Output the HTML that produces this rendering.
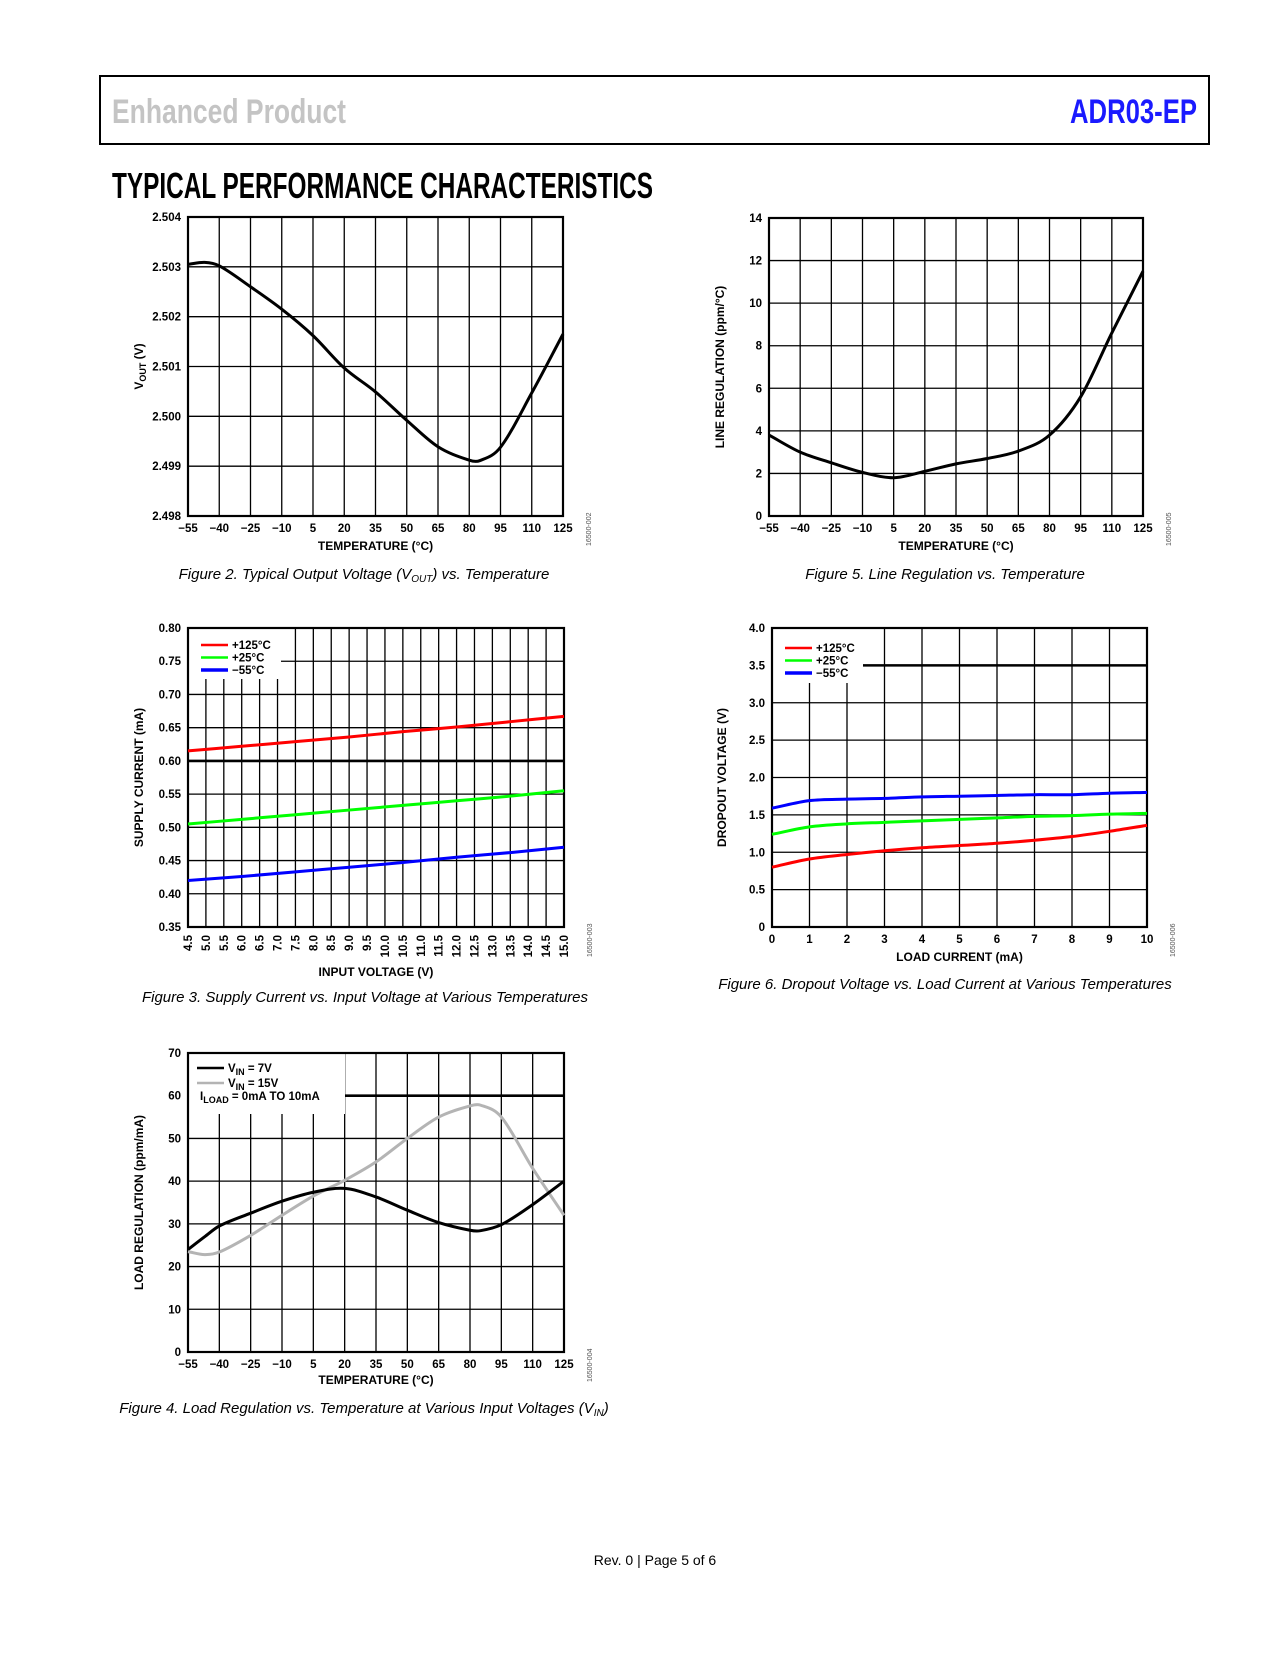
<!DOCTYPE html>
<html><head><meta charset="utf-8"><style>
html,body{margin:0;padding:0;background:#fff;}
body{width:1275px;height:1650px;position:relative;overflow:hidden;font-family:"Liberation Sans",sans-serif;}
svg text{font-family:"Liberation Sans",sans-serif;}
</style></head><body>
<svg id="page" width="1275" height="1650" viewBox="0 0 1275 1650" xmlns="http://www.w3.org/2000/svg">
<rect x="100" y="76" width="1109" height="68" fill="none" stroke="#000" stroke-width="2"/>
<text x="112" y="123" font-size="34" font-weight="bold" fill="#c4c4c4" textLength="234" lengthAdjust="spacingAndGlyphs">Enhanced Product</text>
<text x="1197" y="123" font-size="34" font-weight="bold" fill="#1a1aff" text-anchor="end" textLength="127" lengthAdjust="spacingAndGlyphs">ADR03-EP</text>
<text x="112" y="198" font-size="36" font-weight="bold" fill="#000" textLength="541" lengthAdjust="spacingAndGlyphs">TYPICAL PERFORMANCE CHARACTERISTICS</text>
<text x="364" y="579" font-size="15" font-style="italic" text-anchor="middle">Figure 2. Typical Output Voltage (V<tspan font-size="10" dy="3">OUT</tspan><tspan dy="-3">) vs. Temperature</tspan></text>
<text x="945" y="579" font-size="15" font-style="italic" text-anchor="middle">Figure 5. Line Regulation vs. Temperature</text>
<text x="365" y="1002" font-size="15" font-style="italic" text-anchor="middle">Figure 3. Supply Current vs. Input Voltage at Various Temperatures</text>
<text x="945" y="989" font-size="15" font-style="italic" text-anchor="middle">Figure 6. Dropout Voltage vs. Load Current at Various Temperatures</text>
<text x="364" y="1413" font-size="15" font-style="italic" text-anchor="middle">Figure 4. Load Regulation vs. Temperature at Various Input Voltages (V<tspan font-size="10" dy="3">IN</tspan><tspan dy="-3">)</tspan></text>
<text x="655" y="1565" font-size="14" text-anchor="middle">Rev. 0 | Page 5 of 6</text>
</svg>
<script>
// ---- Figure 2 data ----
const f2Temps = [-55,-47,-40,-25,-10,5,20,35,50,65,80,85,95,110,125];
const f2Vout = [2.50305,2.50309,2.50302,2.5026,2.50215,2.50162,2.50097,2.50049,2.49992,2.49939,2.49912,2.49911,2.49938,2.50047,2.50165];
const tempTicks = [-55,-40,-25,-10,5,20,35,50,65,80,95,110,125];
const tempTickLabels = ["\u221255","\u221240","\u221225","\u221210","5","20","35","50","65","80","95","110","125"];
const f2YTicks = [2.498,2.499,2.500,2.501,2.502,2.503,2.504];
const f2YLabels = ["2.498","2.499","2.500","2.501","2.502","2.503","2.504"];
// ---- Figure 5 data ----
const f5Temps = [-55,-40,-25,-10,5,20,35,50,65,80,95,110,125];
const f5LineReg = [3.8,3.0,2.5,2.05,1.8,2.1,2.45,2.7,3.05,3.8,5.6,8.6,11.5];
const f5YTicks = [0,2,4,6,8,10,12,14];
// ---- Figure 3 data ----
const f3Vin = [4.5,6,7.5,9,10.5,12,13.5,15];
const f3Hot = [0.615,0.622,0.629,0.636,0.644,0.651,0.659,0.667];
const f3Room = [0.505,0.512,0.519,0.526,0.533,0.540,0.547,0.555];
const f3Cold = [0.420,0.426,0.433,0.440,0.447,0.455,0.462,0.470];
const f3XTicks = [4.5,5,5.5,6,6.5,7,7.5,8,8.5,9,9.5,10,10.5,11,11.5,12,12.5,13,13.5,14,14.5,15];
const f3YTicks = [0.35,0.40,0.45,0.50,0.55,0.60,0.65,0.70,0.75,0.80];
// ---- Figure 6 data ----
const f6Load = [0,1,2,3,4,5,6,7,8,9,10];
const f6Hot = [0.80,0.91,0.97,1.02,1.06,1.09,1.12,1.16,1.21,1.28,1.36];
const f6Room = [1.24,1.34,1.38,1.40,1.42,1.44,1.46,1.48,1.49,1.51,1.52];
const f6Cold = [1.59,1.69,1.71,1.72,1.74,1.75,1.76,1.77,1.77,1.79,1.80];
const f6XTicks = [0,1,2,3,4,5,6,7,8,9,10];
const f6YTicks = [0,0.5,1,1.5,2,2.5,3,3.5,4];
const f6YLabels = ["0","0.5","1.0","1.5","2.0","2.5","3.0","3.5","4.0"];
// ---- Figure 4 data ----
const f4Temps = [-55,-47,-40,-25,-10,5,20,35,50,65,80,85,95,110,125];
const f4Vin7 = [24,27,29.5,32.5,35.3,37.4,38.3,36.3,33.2,30.3,28.5,28.4,29.8,34.5,40];
const f4Vin15 = [23.5,22.8,23.4,27.3,32,36.5,40.2,44.5,50,55,57.6,57.8,55,43,32];
const f4YTicks = [0,10,20,30,40,50,60,70];

const NS = "http://www.w3.org/2000/svg";
const svg = document.getElementById('page');
function mk(tag, attrs, parent){
  const e = document.createElementNS(NS, tag);
  for (const k in attrs) e.setAttribute(k, attrs[k]);
  (parent||svg).appendChild(e);
  return e;
}
function smoothPath(pts){
  const n = pts.length;
  const m = pts.map((p,i)=>{
    const a = pts[Math.max(0,i-1)], b = pts[Math.min(n-1,i+1)];
    return (b[1]-a[1])/(b[0]-a[0]);
  });
  let d = "M"+pts[0][0].toFixed(2)+","+pts[0][1].toFixed(2);
  for (let i=0;i<n-1;i++){
    const p1=pts[i], p2=pts[i+1], h=(p2[0]-p1[0])/3;
    d+=" C"+(p1[0]+h).toFixed(2)+","+(p1[1]+m[i]*h).toFixed(2)+" "+(p2[0]-h).toFixed(2)+","+(p2[1]-m[i+1]*h).toFixed(2)+" "+p2[0].toFixed(2)+","+p2[1].toFixed(2);
  }
  return d;
}
function chart(c){
  const g = mk('g', {});
  
  
  const sx = v => c.L + (v - c.xmin)/(c.xmax - c.xmin)*(c.R - c.L);
  const sy = v => c.B - (v - c.ymin)/(c.ymax - c.ymin)*(c.B - c.T);
  c.xTicks.forEach((t,i)=>{
    const ln = mk('line', {x1:sx(t),x2:sx(t),y1:c.T,y2:c.B,stroke:'#000','stroke-width':1.3}, g);
    
    
    const tx = mk('text', {'font-size':11.5,'font-weight':'bold','text-anchor':'middle'}, g);
    
    
    if (c.rotX){
      tx.setAttribute('transform','translate('+(sx(t)+4)+','+(c.B+8)+') rotate(-90)');
      tx.setAttribute('text-anchor','end');
      tx.setAttribute('x',0); tx.setAttribute('y',0);
    } else {
      tx.setAttribute('x', sx(t)); tx.setAttribute('y', c.B+16);
    }
    tx.textContent = c.xLabels[i];
  });
  c.yTicks.forEach((t,i)=>{
    const heavy = c.heavy !== undefined && Math.abs(t-c.heavy)<1e-9;
    const ln = mk('line', {x1:c.L,x2:c.R,y1:sy(t),y2:sy(t),stroke:'#000','stroke-width':heavy?2.6:1.3}, g);
    
    
    const tx = mk('text', {x:c.L-7,y:sy(t)+4,'font-size':11.5,'font-weight':'bold','text-anchor':'end'}, g);
    
    
    tx.textContent = c.yLabels[i];
  });
  if (c.legendBox){
    const lb = mk('rect', {x:c.L+1,y:c.T+1,width:c.legendBox[0],height:c.legendBox[1],fill:'#fff'}, g);
    
    
  }
  const fr = mk('rect', {x:c.L,y:c.T,width:c.R-c.L,height:c.B-c.T,fill:'none',stroke:'#000','stroke-width':2.2}, g);
  
  
  c.series.forEach(s=>{
    const pts = s.x.map((v,i)=>[sx(v), sy(s.y[i])]);
    const p = mk('path', {d:smoothPath(pts),fill:'none',stroke:s.color,'stroke-width':3,'stroke-linejoin':'round'}, g);
    
    
  });
  if (c.legend){
    c.legend.forEach((e,i)=>{
      const y = c.T + c.legendY0 + i*c.legendDy;
      const sw = mk('line', {x1:c.L+c.legendX0,x2:c.L+c.legendX0+27,y1:y,y2:y,stroke:e.color,'stroke-width':e.w||2.5}, g);
      
      
      const t = mk('text', {x:c.L+c.legendX0+31,y:y+4,'font-size':11.5,'font-weight':'bold'}, g);
      
      
      t.innerHTML = e.label;
    });
  }
  if (c.extraLegend){
    const t = mk('text', {x:c.L+12,y:c.T+c.legendY0+2*c.legendDy+2,'font-size':11.5,'font-weight':'bold'}, g);
    
    
    t.innerHTML = c.extraLegend;
  }
  const xt = mk('text', {x:(c.L+c.R)/2,y:c.xTitleY,'font-size':12,'font-weight':'bold','text-anchor':'middle'}, g);
  
  
  xt.textContent = c.xTitle;
  const yt = mk('text', {transform:'translate('+c.yTitleX+','+((c.T+c.B)/2)+') rotate(-90)','font-size':12,'font-weight':'bold','text-anchor':'middle'}, g);
  
  
  yt.innerHTML = c.yTitle;
  const id = mk('text', {transform:'translate('+(c.R+28)+','+(c.B+30)+') rotate(-90)','font-size':7,fill:'#555'}, g);
  
  
  id.textContent = c.fid;
}
const fmt2 = v => v.toFixed(2);
chart({name:'fig2-output-voltage-chart',L:188,R:563,T:217,B:516,xmin:-55,xmax:125,ymin:2.498,ymax:2.504,
  xTicks:tempTicks,xLabels:tempTickLabels,yTicks:f2YTicks,yLabels:f2YLabels,
  series:[{name:'vout-curve',x:f2Temps,y:f2Vout,color:'#000'}],
  xTitle:'TEMPERATURE (\u00B0C)',xTitleY:550,yTitleX:143,yTitle:'V<tspan font-size="9" dy="3">OUT</tspan><tspan dy="-3"> (V)</tspan>',fid:'16500-002'});
chart({name:'fig5-line-regulation-chart',L:769,R:1143,T:218,B:516,xmin:-55,xmax:125,ymin:0,ymax:14,
  xTicks:tempTicks,xLabels:tempTickLabels,yTicks:f5YTicks,yLabels:f5YTicks.map(String),
  series:[{name:'line-regulation-curve',x:f5Temps,y:f5LineReg,color:'#000'}],
  xTitle:'TEMPERATURE (\u00B0C)',xTitleY:550,yTitleX:724,yTitle:'LINE REGULATION (ppm/\u00B0C)',fid:'16500-005'});
chart({name:'fig3-supply-current-chart',L:188,R:564,T:628,B:927,xmin:4.5,xmax:15,ymin:0.35,ymax:0.80,heavy:0.60,rotX:true,
  xTicks:f3XTicks,xLabels:f3XTicks.map(v=>v.toFixed(1)),yTicks:f3YTicks,yLabels:f3YTicks.map(fmt2),
  legendBox:[92,50],legendX0:13,legendY0:17,legendDy:12.5,
  legend:[{label:'+125\u00B0C',color:'#ff0000'},{label:'+25\u00B0C',color:'#00ff00'},{label:'\u221255\u00B0C',color:'#0000ff',w:3.5}],
  series:[{name:'series-plus125c',x:f3Vin,y:f3Hot,color:'#ff0000'},{name:'series-plus25c',x:f3Vin,y:f3Room,color:'#00ff00'},{name:'series-minus55c',x:f3Vin,y:f3Cold,color:'#0000ff'}],
  xTitle:'INPUT VOLTAGE (V)',xTitleY:976,yTitleX:143,yTitle:'SUPPLY CURRENT (mA)',fid:'16500-003'});
chart({name:'fig6-dropout-voltage-chart',L:772,R:1147,T:628,B:927,xmin:0,xmax:10,ymin:0,ymax:4,heavy:3.5,
  xTicks:f6XTicks,xLabels:f6XTicks.map(String),yTicks:f6YTicks,yLabels:f6YLabels,
  legendBox:[90,54],legendX0:13,legendY0:20,legendDy:12.5,
  legend:[{label:'+125\u00B0C',color:'#ff0000'},{label:'+25\u00B0C',color:'#00ff00'},{label:'\u221255\u00B0C',color:'#0000ff',w:3.5}],
  series:[{name:'series-plus125c',x:f6Load,y:f6Hot,color:'#ff0000'},{name:'series-plus25c',x:f6Load,y:f6Room,color:'#00ff00'},{name:'series-minus55c',x:f6Load,y:f6Cold,color:'#0000ff'}],
  xTitle:'LOAD CURRENT (mA)',xTitleY:961,yTitleX:726,yTitle:'DROPOUT VOLTAGE (V)',fid:'16500-006'});
chart({name:'fig4-load-regulation-chart',L:188,R:564,T:1053,B:1352,xmin:-55,xmax:125,ymin:0,ymax:70,heavy:60,
  xTicks:tempTicks,xLabels:tempTickLabels,yTicks:f4YTicks,yLabels:f4YTicks.map(String),
  legendBox:[156,60],legendX0:9,legendY0:15,legendDy:15,
  legend:[{label:'V<tspan font-size="9" dy="3">IN</tspan><tspan dy="-3"> = 7V</tspan>',color:'#000'},{label:'V<tspan font-size="9" dy="3">IN</tspan><tspan dy="-3"> = 15V</tspan>',color:'#b4b4b4'}],
  extraLegend:'I<tspan font-size="9" dy="3">LOAD</tspan><tspan dy="-3"> = 0mA TO 10mA</tspan>',
  series:[{name:'series-vin-15v',x:f4Temps,y:f4Vin15,color:'#b4b4b4'},{name:'series-vin-7v',x:f4Temps,y:f4Vin7,color:'#000'}],
  xTitle:'TEMPERATURE (\u00B0C)',xTitleY:1384,yTitleX:143,yTitle:'LOAD REGULATION (ppm/mA)',fid:'16500-004'});
</script>
</body></html>
